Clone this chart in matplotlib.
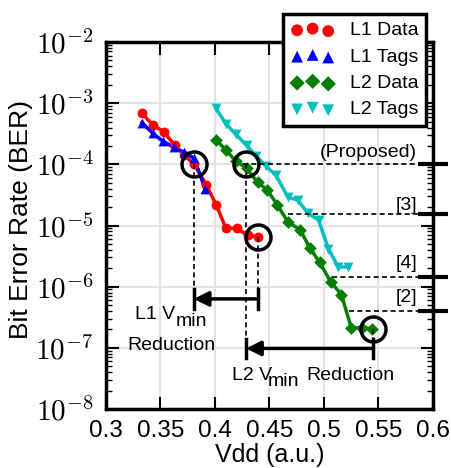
import numpy as np
import matplotlib
matplotlib.use('Agg')
import matplotlib.pyplot as plt
from matplotlib.ticker import FuncFormatter, FixedLocator, LogLocator, NullFormatter

plt.rcParams['font.family'] = ['Liberation Sans', 'DejaVu Sans']
plt.rcParams['mathtext.fontset'] = 'cm'

# ---- data ----
l1_data_v = [0.333, 0.343, 0.353, 0.363, 0.372, 0.381, 0.392, 0.401, 0.410, 0.420, 0.430, 0.439]
l1_data_ber = [6.8e-4, 4.4e-4, 3.4e-4, 2.05e-4, 1.4e-4, 1.0e-4, 4.6e-5, 2.2e-5, 9.0e-6, 9.0e-6, 6.9e-6, 6.6e-6]

l1_tags_v = [0.333, 0.343, 0.352, 0.362, 0.372, 0.381, 0.391]
l1_tags_ber = [4.8e-4, 3.2e-4, 2.4e-4, 1.9e-4, 1.57e-4, 1.25e-4, 3.9e-5]

l2_data_v = [0.401, 0.410, 0.419, 0.429, 0.439, 0.448, 0.457, 0.467, 0.478, 0.487,
             0.496, 0.506, 0.516, 0.525, 0.535, 0.544]
l2_data_ber = [2.54e-4, 1.7e-4, 1.14e-4, 8.6e-5, 5.1e-5, 3.8e-5, 2.2e-5, 1.13e-5, 8.6e-6, 4.3e-6,
               2.5e-6, 1.21e-6, 7.4e-7, 2.13e-7, 2.13e-7, 2.05e-7]

l2_tags_v = [0.401, 0.410, 0.419, 0.429, 0.438, 0.447, 0.456, 0.467, 0.476, 0.485,
             0.495, 0.504, 0.513, 0.522]
l2_tags_ber = [8.2e-4, 4.6e-4, 3.1e-4, 2.05e-4, 1.35e-4, 9.3e-5, 6.6e-5, 2.9e-5, 2.6e-5, 1.6e-5,
               1.23e-5, 4.2e-6, 2.1e-6, 2.1e-6]

series_labels = ['L1 Data', 'L1 Tags', 'L2 Data', 'L2 Tags']
series_colors = ['r', 'b', 'g', 'c']
series_markers = ['o', '^', 'D', 'v']

# reference BER levels (right side)
ref_labels = ['(Proposed)', '[3]', '[4]', '[2]']
ref_ber = [1.0e-4, 1.55e-5, 1.45e-6, 4.0e-7]
ref_start_v = [0.4257, 0.467, 0.507, 0.5225]
ref_label_ber = [10 ** -3.81, 10 ** -4.665, 10 ** -5.62, 10 ** -6.185]

# Vmin points
l1_vmin_hi = (0.4392, 6.6e-6)
l1_vmin_lo = (0.3805, 1.0e-4)
l2_vmin_hi = (0.545, 2.05e-7)
l2_vmin_lo = (0.4285, 1.0e-4)

xticks = [0.3, 0.35, 0.4, 0.45, 0.5, 0.55, 0.6]
xtick_labels = ['0.3', '0.35', '0.4', '0.45', '0.5', '0.55', '0.6']
yticks = [1e-8, 1e-7, 1e-6, 1e-5, 1e-4, 1e-3, 1e-2]

fig = plt.figure(figsize=(4.52, 4.68), dpi=100)
ax = fig.add_axes([106 / 452, 1 - 409 / 468, 327 / 452, 367 / 468])
ax.set_yscale('log')
ax.set_xlim(0.3, 0.6)
ax.set_ylim(1e-8, 1e-2)

ax.grid(True, which='major', color='#e3e3e3', lw=1.5, zorder=0)
ax.set_axisbelow(True)

data = [(l1_data_v, l1_data_ber), (l1_tags_v, l1_tags_ber),
        (l2_data_v, l2_data_ber), (l2_tags_v, l2_tags_ber)]
handles = []
for (v, b), lab, col, mk in zip(data, series_labels, series_colors, series_markers):
    ax.plot(v, b, color=col, lw=2.5, zorder=3)
    ms = 50 if mk != 'D' else 42
    h = ax.scatter(v, b, s=ms, color=col, marker=mk, label=lab, zorder=4, linewidths=0)
    handles.append(h)

dash = (0, (3, 2))
# circles
for (cv, cb) in [l1_vmin_lo, l1_vmin_hi, l2_vmin_lo, l2_vmin_hi]:
    ax.plot([cv], [cb], marker='o', ms=18, mfc='none', mec='k', mew=2.5, zorder=6)

# L1 arrow
y1 = 10 ** -6.20
ax.plot([l1_vmin_lo[0]] * 2, [l1_vmin_lo[1], y1], color='k', lw=1.2, ls=dash, zorder=5)
ax.plot([l1_vmin_hi[0]] * 2, [l1_vmin_hi[1], y1], color='k', lw=1.2, ls=dash, zorder=5)
ax.annotate('', xy=(l1_vmin_lo[0], y1), xytext=(l1_vmin_hi[0], y1),
            arrowprops=dict(arrowstyle='-|>', lw=2.5, color='k', mutation_scale=22,
                            shrinkA=0, shrinkB=0), zorder=6)
for xv in [l1_vmin_lo[0], l1_vmin_hi[0]]:
    ax.plot([xv, xv], [10 ** -6.04, 10 ** -6.36], color='k', lw=2.5, zorder=6)

# L2 arrow
y2 = 10 ** -7.01
ax.plot([l2_vmin_lo[0]] * 2, [l2_vmin_lo[1], 10 ** -7.17], color='k', lw=1.2, ls=dash, zorder=5)
ax.plot([l2_vmin_hi[0]] * 2, [l2_vmin_hi[1], y2], color='k', lw=1.2, ls=dash, zorder=5)
ax.annotate('', xy=(l2_vmin_lo[0], y2), xytext=(l2_vmin_hi[0], y2),
            arrowprops=dict(arrowstyle='-|>', lw=2.5, color='k', mutation_scale=22,
                            shrinkA=0, shrinkB=0), zorder=6)
for xv in [l2_vmin_lo[0], l2_vmin_hi[0]]:
    ax.plot([xv, xv], [10 ** -6.85, 10 ** -7.17], color='k', lw=2.5, zorder=6)

fs_ann = 14
ax.text(0.3266, 10 ** -6.533, 'L1 V', ha='left', va='baseline', fontsize=fs_ann, zorder=7)
ax.text(0.3642, 10 ** -6.635, 'min', ha='left', va='baseline', fontsize=fs_ann, zorder=7)
ax.text(0.3601, 10 ** -7.035, 'Reduction', ha='center', va='baseline', fontsize=fs_ann, zorder=7)
ax.text(0.4153, 10 ** -7.526, 'L2 V', ha='left', va='baseline', fontsize=fs_ann, zorder=7)
ax.text(0.4486, 10 ** -7.624, 'min', ha='left', va='baseline', fontsize=fs_ann, zorder=7)
ax.text(0.4835, 10 ** -7.526, 'Reduction', ha='left', va='baseline', fontsize=fs_ann, zorder=7)

# reference lines
for lab, rb, sv, lb in zip(ref_labels, ref_ber, ref_start_v, ref_label_ber):
    ax.plot([sv, 0.586], [rb, rb], color='k', lw=1.2, ls=dash, zorder=5)
    ax.plot([0.586, 0.614], [rb, rb], color='k', lw=3, clip_on=False, zorder=8,
            solid_capstyle='butt')
    ax.text(0.5855, lb, lab, ha='right', va='center', fontsize=fs_ann, zorder=7)

# ticks
ax.set_xticks(xticks)
ax.set_xticklabels(xtick_labels)
ax.yaxis.set_major_locator(FixedLocator(yticks))
ax.yaxis.set_minor_locator(LogLocator(base=10, subs=np.arange(2, 10), numticks=20))
ax.yaxis.set_major_formatter(FuncFormatter(lambda y, _: r'$10^{%d}$' % int(round(np.log10(y)))))
ax.yaxis.set_minor_formatter(NullFormatter())
ax.tick_params(axis='both', which='major', direction='in', length=9, width=1.5,
               top=True, right=True, pad=8)
ax.tick_params(axis='x', which='major', labelsize=17.5)
ax.tick_params(axis='y', which='major', labelsize=21, pad=9)
ax.tick_params(axis='y', which='minor', direction='in', length=4.5, width=1,
               left=True, right=True)
ax.tick_params(axis='x', which='minor', bottom=False, top=False)
for sp in ax.spines.values():
    sp.set_linewidth(2.5)

ax.set_xlabel('Vdd (a.u.)', fontsize=18)
ax.xaxis.set_label_coords(0.5, -0.093)
ax.xaxis.label.set_va('top')
ax.set_ylabel('Bit Error Rate (BER)', fontsize=19)
ax.yaxis.set_label_coords(-0.222, 0.515)

leg = ax.legend(handles=handles, loc='upper right', bbox_to_anchor=(426 / 452, 1 - 14 / 468),
                bbox_transform=fig.transFigure, fontsize=14, frameon=True, fancybox=False,
                framealpha=1, edgecolor='k', scatterpoints=3, handlelength=2.2,
                handletextpad=0.8, borderpad=0.4, labelspacing=0.45, borderaxespad=0,
                markerscale=1.2)
leg.get_frame().set_linewidth(2.5)
leg.set_zorder(10)

fig.savefig('out.png', dpi=100)
